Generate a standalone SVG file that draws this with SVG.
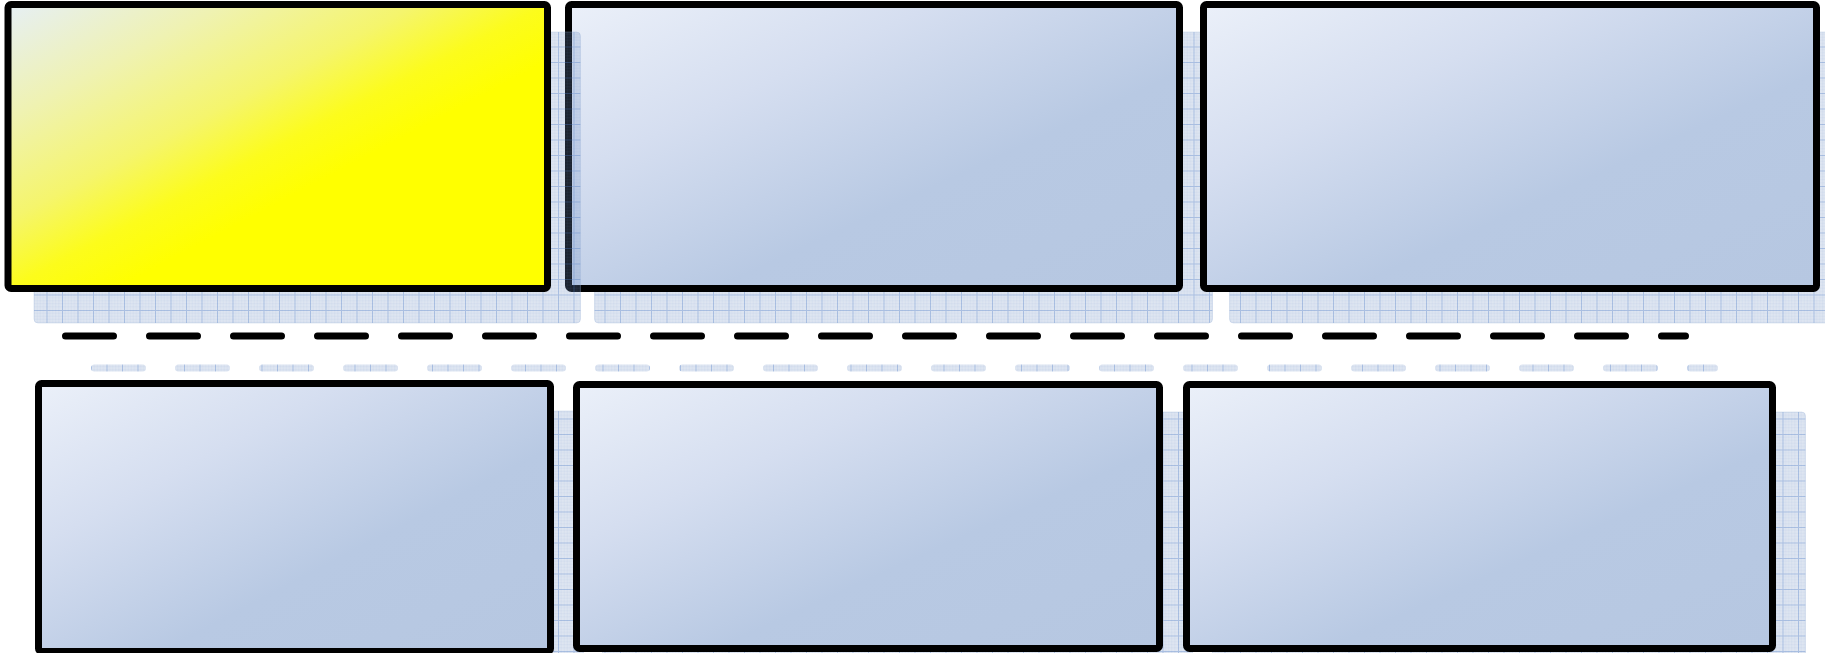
<svg xmlns="http://www.w3.org/2000/svg" width="1825" height="653" viewBox="0 0 1825 653">
<style>
.panel{stroke:#000;stroke-width:7;stroke-linejoin:round}
.blue{fill:url(#gBlue)}
.yellow{fill:url(#gYellow)}
.shadow{fill:url(#grid);stroke:#9db3d8;stroke-opacity:0.3;stroke-width:1}
.dash{fill:none;stroke-width:7;stroke-linecap:round;stroke-dasharray:48 36}
</style>
<defs>
<linearGradient id="gBlue" x1="0" y1="0" x2="1" y2="1">
<stop offset="0" stop-color="#ebf0f9"/>
<stop offset="0.3" stop-color="#d5def0"/>
<stop offset="0.62" stop-color="#b8c9e3"/>
<stop offset="1" stop-color="#b6c7e1"/>
</linearGradient>
<linearGradient id="gYellow" x1="0" y1="0" x2="1" y2="1">
<stop offset="0" stop-color="#e6eff5"/>
<stop offset="0.2" stop-color="#eff2b2"/>
<stop offset="0.38" stop-color="#f5f56c"/>
<stop offset="0.5" stop-color="#fcfc1c"/>
<stop offset="0.6" stop-color="#ffff00"/>
<stop offset="1" stop-color="#ffff00"/>
</linearGradient>
<pattern id="grid" patternUnits="userSpaceOnUse" width="15.5" height="15.5">
<rect width="15.5" height="15.5" fill="#6f8fc4" fill-opacity="0.23"/>
<path d="M3.1 0V15.5M6.2 0V15.5M9.3 0V15.5M12.4 0V15.5M0 3.1H15.5M0 6.2H15.5M0 9.3H15.5M0 12.4H15.5" stroke="#6f8fc4" stroke-opacity="0.12" stroke-width="0.6"/>
<path d="M0.5 0V15.5M0 0.5H15.5" stroke="#4c7ac6" stroke-opacity="0.36" stroke-width="1"/>
</pattern>
</defs>
<rect width="1825" height="653" fill="#fff"/>

<g id="node-p2">
<rect class="shadow" x="594.5" y="32" width="618" height="291" rx="4"/>
<rect class="panel blue" x="568.5" y="4.5" width="611" height="284" rx="3"/>
</g>
<g id="node-p3">
<rect class="shadow" x="1229.5" y="32" width="620" height="291" rx="4"/>
<rect class="panel blue" x="1203.5" y="4.5" width="613" height="284" rx="3"/>
</g>
<g id="node-p1">
<rect class="shadow" x="34" y="32" width="546.5" height="291" rx="4"/>
<rect class="panel yellow" x="8" y="4.5" width="539.5" height="284" rx="3"/>
</g>

<g id="connectors">
<path class="dash" stroke="url(#grid)" d="M65.5 336H1685.5" transform="translate(29 32)"/>
<path class="dash" stroke="#000" d="M65.5 336H1685.5"/>
</g>

<g id="node-p4">
<rect class="shadow" x="64.5" y="411" width="519" height="275" rx="4"/>
<rect class="panel blue" x="38.5" y="383.5" width="512" height="268" rx="3"/>
</g>
<g id="node-p5">
<rect class="shadow" x="602.5" y="412" width="590" height="271" rx="4"/>
<rect class="panel blue" x="576.5" y="384.5" width="583" height="264" rx="3"/>
</g>
<g id="node-p6">
<rect class="shadow" x="1212.5" y="412" width="593" height="271" rx="4"/>
<rect class="panel blue" x="1186.5" y="384.5" width="586" height="264" rx="3"/>
</g>
</svg>
